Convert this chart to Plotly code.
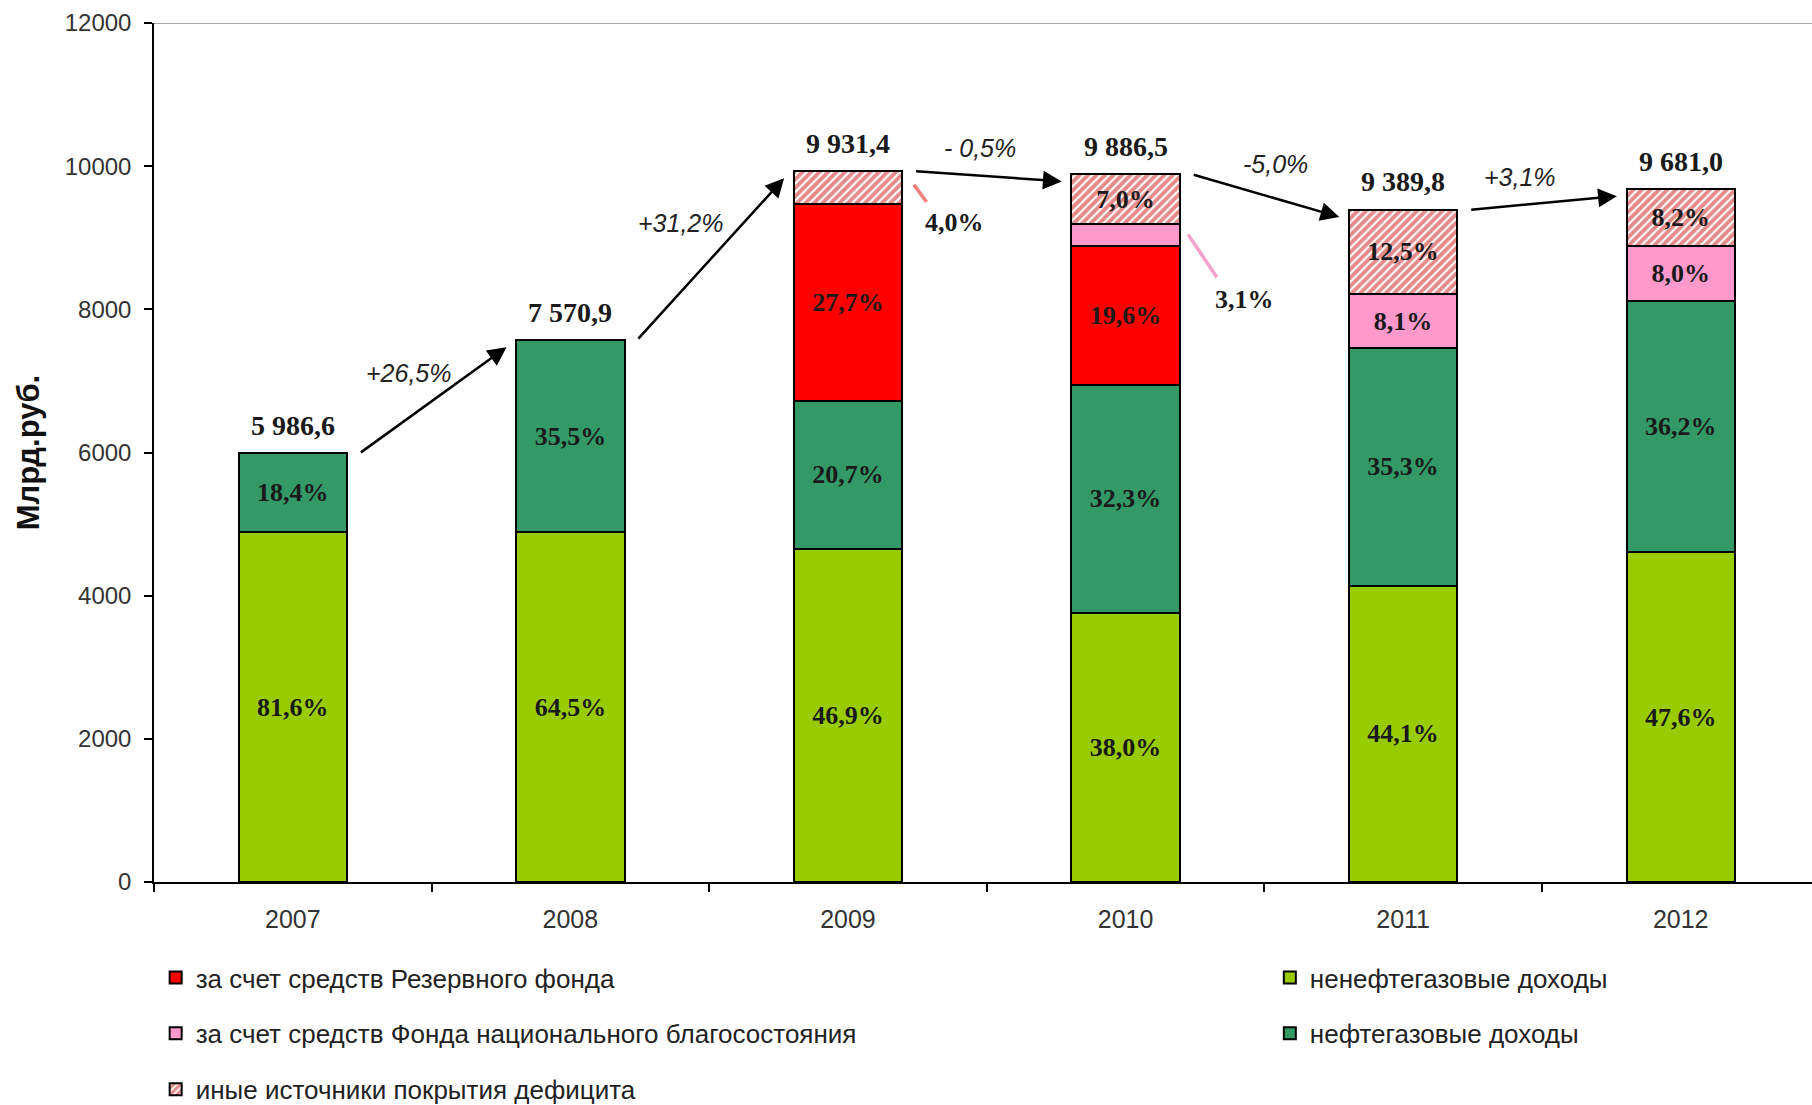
import plotly.graph_objects as go

years = ["2007", "2008", "2009", "2010", "2011", "2012"]
totals = [5986.6, 7570.9, 9931.4, 9886.5, 9389.8, 9681.0]
totals_text = ["5 986,6", "7 570,9", "9 931,4", "9 886,5", "9 389,8", "9 681,0"]

non_oil = [4885, 4883, 4658, 3757, 4141, 4608]
oil = [1102, 2688, 2056, 3193, 3315, 3505]
reserve = [0, 0, 2751, 1938, 0, 0]
fnb = [0, 0, 0, 306, 761, 774]
other = [0, 0, 466, 692, 1174, 794]

non_oil_lbl = ["81,6%", "64,5%", "46,9%", "38,0%", "44,1%", "47,6%"]
oil_lbl = ["18,4%", "35,5%", "20,7%", "32,3%", "35,3%", "36,2%"]
reserve_lbl = ["", "", "27,7%", "19,6%", "", ""]
fnb_lbl = ["", "", "", "", "8,1%", "8,0%"]
other_lbl = ["", "", "", "7,0%", "12,5%", "8,2%"]

growth_lbl = ["+26,5%", "+31,2%", "- 0,5%", "-5,0%", "+3,1%"]

y_ticks = [0, 2000, 4000, 6000, 8000, 10000, 12000]
y_ticktext = ["0", "2000", "4000", "6000", "8000", "10000", "12000"]

names = {
    "reserve": "за счет средств Резервного фонда",
    "fnb": "за счет средств Фонда национального благосостояния",
    "other": "иные источники покрытия дефицита",
    "non_oil": "ненефтегазовые доходы",
    "oil": "нефтегазовые доходы",
}

LBL_FONT = dict(family="Liberation Serif", size=26, color="#1a1a1a", weight="bold")
TOT_FONT = dict(family="Liberation Serif", size=28, color="#1a1a1a", weight="bold")
YTICK_FONT = dict(family="Liberation Sans", size=24, color="#333333")
XTICK_FONT = dict(family="Liberation Sans", size=25, color="#333333")
LEG_FONT = dict(family="Liberation Sans", size=26, color="#222222")
BAR_W = 0.39
LINE = dict(color="black", width=2)

fig = go.Figure()


def add_bar(vals, lbls, name, key, legend, **marker):
    fig.add_trace(go.Bar(
        x=years, y=vals, name=name, text=lbls, width=BAR_W,
        textposition="inside", insidetextanchor="middle", textangle=0,
        constraintext="none", textfont=LBL_FONT,
        marker=dict(line=LINE, **marker),
        legend=legend, legendgroup=key, hoverinfo="y+name",
    ))


add_bar(non_oil, non_oil_lbl, names["non_oil"], "non_oil", "legend2", color="#99CC00")
add_bar(oil, oil_lbl, names["oil"], "oil", "legend2", color="#339966")
add_bar(reserve, reserve_lbl, names["reserve"], "reserve", "legend", color="#FF0000")
add_bar(fnb, fnb_lbl, names["fnb"], "fnb", "legend", color="#FF99CC")
add_bar(other, other_lbl, names["other"], "other", "legend", color="white",
        pattern=dict(shape="/", fgcolor="#CC1515", bgcolor="white", size=6, solidity=0.65))

annotations = []
# totals above bars
for i, t in enumerate(totals):
    annotations.append(dict(x=i, y=t, text=totals_text[i], showarrow=False,
                            yanchor="middle", yshift=28, font=TOT_FONT))

# growth arrows
for i in range(len(years) - 1):
    annotations.append(dict(
        x=i + 0.77, y=totals[i + 1] - 100, ax=i + 0.24, ay=totals[i],
        xref="x", yref="y", axref="x", ayref="y", text="", showarrow=True,
        arrowhead=2, arrowsize=1.5, arrowwidth=2.5, arrowcolor="black",
    ))

growth_pos = [(0.42, 7108), (1.40, 9208), (2.475, 10258), (3.54, 10032), (4.42, 9855)]
for (gx, gy), g in zip(growth_pos, growth_lbl):
    annotations.append(dict(x=gx, y=gy, text=g, showarrow=False,
                            font=dict(family="Liberation Sans", size=25, color="#222222",
                                      style="italic")))

# outside small-segment labels with leader lines
outside = [
    dict(text="4,0%", line=((2.2375, 9742), (2.283, 9499)), pos=(2.385, 9208), color="#F08080"),
    dict(text="3,1%", line=((3.225, 9047), (3.329, 8449)), pos=(3.43, 8142), color="#F4A0C8"),
]
shapes = []
for o in outside:
    (x0, y0), (x1, y1) = o["line"]
    shapes.append(dict(type="line", xref="x", yref="y", x0=x0, y0=y0, x1=x1, y1=y1,
                       line=dict(color=o["color"], width=3.5)))
    annotations.append(dict(x=o["pos"][0], y=o["pos"][1], text=o["text"],
                            showarrow=False, font=LBL_FONT))

# top frame line
shapes.append(dict(type="line", xref="paper", yref="y", x0=0, x1=1, y0=12000, y1=12000,
                   line=dict(color="#888888", width=1.5)))

# y axis title
annotations.append(dict(xref="paper", yref="paper", x=-0.0755, y=0.5, text="<b>Млрд.руб.</b>",
                        textangle=-90, showarrow=False, xanchor="center", yanchor="middle",
                        font=dict(family="Liberation Sans", size=31, color="#111111")))

fig.update_layout(
    width=1812, height=1105,
    margin=dict(l=154, r=0, t=23, b=223, autoexpand=False),
    paper_bgcolor="white", plot_bgcolor="white",
    barmode="stack", bargap=0.6,
    annotations=annotations, shapes=shapes,
    showlegend=True,
    legend=dict(x=0.001, y=-0.084, xanchor="left", yanchor="top", font=LEG_FONT,
                traceorder="grouped", tracegroupgap=19, bgcolor="rgba(0,0,0,0)"),
    legend2=dict(x=0.673, y=-0.084, xanchor="left", yanchor="top", font=LEG_FONT,
                 traceorder="grouped", tracegroupgap=19, bgcolor="rgba(0,0,0,0)"),
    xaxis=dict(type="category", range=[-0.5, 5.473], tickson="boundaries",
               ticks="outside", ticklen=8, tickwidth=1.5, tickcolor="black",
               showline=True, linecolor="black", linewidth=1.5, showgrid=False,
               tickfont=XTICK_FONT, ticklabelstandoff=14),
    yaxis=dict(range=[0, 12000], tickvals=y_ticks, ticktext=y_ticktext,
               ticks="outside", ticklen=8, tickwidth=1.5, tickcolor="black",
               showline=True, linecolor="black", linewidth=1.5, showgrid=False,
               zeroline=False, tickfont=YTICK_FONT, ticklabelstandoff=8),
)

fig.write_html("out.html", config={"displayModeBar": False},
               post_script="document.body.style.margin='0';document.body.style.overflow='hidden';")
